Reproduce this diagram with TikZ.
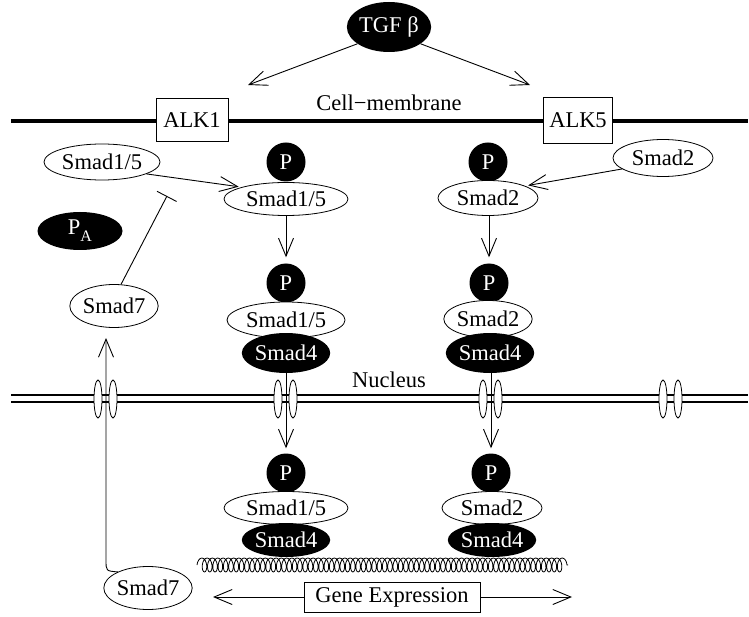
\documentclass[tikz,border=0pt]{standalone}
\usepackage{fontspec}
\setmainfont{Liberation Serif}
\usetikzlibrary{shapes.geometric,arrows.meta,decorations.pathmorphing}
\begin{document}
\begin{tikzpicture}[x=1pt,y=-1pt,
  every node/.style={font=\fontsize{22.5}{26}\selectfont},
  wE/.style={ellipse,draw,fill=white,inner sep=0pt,line width=0.8pt},
  bE/.style={ellipse,fill=black,text=white,inner sep=0pt},
  pC/.style={circle,fill=black,text=white,minimum size=39pt,inner sep=0pt},
  bx/.style={rectangle,draw,fill=white,inner sep=0pt,line width=0.8pt},
  arr/.style={-{Straight Barb[length=18pt,width=15pt]},line width=0.9pt},
  inh/.style={-{Bar[width=22pt]},line width=0.9pt},
  pore/.style={draw,fill=white,line width=0.8pt}]
\useasboundingbox (0,0) rectangle (749,617);

% membranes
\draw[line width=3.3pt] (11,121) -- (748,121);
\draw[line width=1.5pt] (11,395) -- (748,395);
\draw[line width=1.5pt] (11,402) -- (748,402);
\foreach \px in {98,113,278,293,483,498,663,678}
  \draw[pore] (\px,399) ellipse (4pt and 19pt);

% top
\node[bE,minimum width=82pt,minimum height=50pt] (tgf) at (389,27) {TGF β};
\node[bx,minimum width=72pt,minimum height=43pt] (alk1) at (192,120) {ALK1};
\node[bx,minimum width=69pt,minimum height=46pt] (alk5) at (578,120) {ALK5};
\node (mem) at (389,103) {Cell−membrane};
\node (nuc) at (389,380) {Nucleus};
\coordinate (t1) at (248,85);
\coordinate (t2) at (530,85);
\draw[arr] (tgf.208) -- (t1);
\draw[arr] (tgf.332) -- (t2);

% left column
\node[wE,minimum width=116pt,minimum height=36pt] (s15a) at (102,162) {Smad1/5};
\node[pC] (p1) at (286,162) {P};
\node[wE,minimum width=124pt,minimum height=33pt] (s15b) at (286,199) {Smad1/5};
\node[pC] (p2) at (286,283) {P};
\node[wE,minimum width=118pt,minimum height=36pt] (s15c) at (286,320) {Smad1/5};
\node[bE,minimum width=78pt,minimum height=40pt] (s4a) at (286,353) {Smad4};
\node[pC] (p3) at (286,473) {P};
\node[wE,minimum width=124pt,minimum height=33pt] (s15d) at (286,508) {Smad1/5};
\node[bE,minimum width=78pt,minimum height=34pt] (s4b) at (286,540) {Smad4};

% right column
\node[wE,minimum width=100pt,minimum height=37pt] (s2a) at (663,158) {Smad2};
\node[pC] (p4) at (488,162) {P};
\node[wE,minimum width=100pt,minimum height=35pt] (s2b) at (488,198) {Smad2};
\node[pC] (p5) at (489,283) {P};
\node[wE,minimum width=88pt,minimum height=37pt] (s2c) at (488,319) {Smad2};
\node[bE,minimum width=74pt,minimum height=40pt] (s4c) at (490,353) {Smad4};
\node[pC] (p6) at (491,473) {P};
\node[wE,minimum width=100pt,minimum height=33pt] (s2d) at (492,508) {Smad2};
\node[bE,minimum width=78pt,minimum height=34pt] (s4d) at (492,540) {Smad4};

% left side
\node[bE,minimum width=85pt,minimum height=38pt] (pa) at (80,231) {P\raisebox{-0.3em}{\fontsize{16}{16}\selectfont A}};
\node[wE,minimum width=78pt,minimum height=43pt] (s7a) at (114,306) {Smad7};
\node[wE,minimum width=77pt,minimum height=43pt] (s7b) at (148,588) {Smad7};
\coordinate (bar) at (167,196);
\coordinate (s7tip) at (106,338);
\draw[inh] (s7a.72) -- (bar);
\draw[arr] (s7b.152) .. controls (106,571) .. (106,560) -- (s7tip);

% arrows
\draw[arr,shorten >=3pt] (s15a.345) -- (s15b.165);
\draw[arr,shorten >=3pt] (s2a.195) -- (s2b.18);
\draw[arr,shorten >=6pt] (s15b.south) -- (p2.north);
\draw[arr,shorten >=6pt] (s2b.south -| p5.north) -- (p5.north);
\draw[arr,shorten >=5pt] (s4a.south) -- (p3.north);
\draw[arr,shorten >=5pt] (s4c.south -| p6.north) -- (p6.north);

% DNA and gene expression
\draw[line width=0.8pt,decorate,decoration={coil,amplitude=7pt,segment length=5.3pt}] (197,565) -- (568,565);
\node[bx,minimum width=176pt,minimum height=30pt] (gene) at (392,597) {Gene Expression};
\coordinate (g1) at (213,597);
\coordinate (g2) at (572,597);
\draw[arr] (gene.west) -- (g1);
\draw[arr] (gene.east) -- (g2);
\end{tikzpicture}
\end{document}
